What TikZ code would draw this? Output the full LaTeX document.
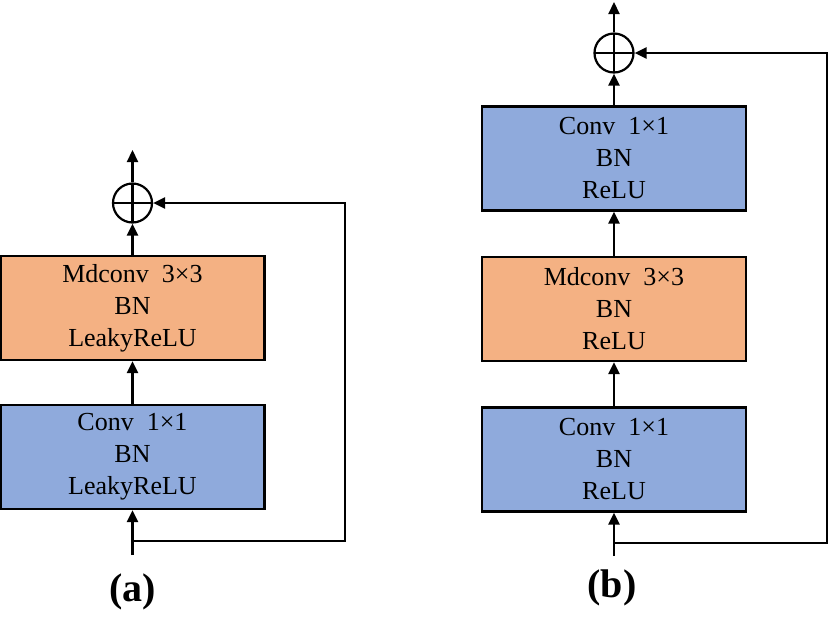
\documentclass[tikz,border=0pt]{standalone}
\usepackage{fontspec}
\setmainfont{Liberation Serif}
\usetikzlibrary{arrows.meta, positioning}
\definecolor{blue1}{HTML}{8FAADC}
\definecolor{orange1}{HTML}{F4B183}

\begin{document}
\begin{tikzpicture}[x=0.5pt,y=-0.5pt]
    \tikzstyle{block} = [draw=black, line width=1.1pt, minimum width=132pt, minimum height=52pt, align=center, inner sep=0pt, font=\fontsize{13}{16}\selectfont]
    \tikzstyle{plus} = [draw, circle, line width=1.1pt, minimum size=19.5pt, inner sep=0pt, path picture={\draw[line width=1.1pt] (path picture bounding box.north) -- (path picture bounding box.south) (path picture bounding box.west) -- (path picture bounding box.east);}]
    \tikzstyle{conn} = [line width=1.1pt, -{Triangle[length=6pt,width=5.5pt]}]
    \tikzstyle{caption} = [font=\fontsize{20}{24}\selectfont\bfseries]
    \useasboundingbox (0,0) rectangle (832,622);

    % (a)
    \node[block, fill=blue1]   (conv_a) at (132.5,457) {Conv~~1×1\\BN\\LeakyReLU};
    \node[block, fill=orange1] (md_a)   at (132.5,308) {Mdconv~~3×3\\BN\\LeakyReLU};
    \node[plus]                (add_a)  at (132.5,203) {};
    \coordinate (out_a) at (132.5,150);
    \coordinate (in_a)  at (132.5,555);
    \coordinate (br_a)  at (132.5,541);
    \coordinate (ret_a) at (345,541);
    \node[caption] (lab_a) at (132.5,592) {(a)};

    \draw[conn] (in_a) -- (conv_a);
    \draw[conn] (conv_a) -- (md_a);
    \draw[conn] (md_a) -- (add_a);
    \draw[conn] (add_a) -- (out_a);
    \draw[conn] (br_a) -- (ret_a) |- (add_a);

    % (b)
    \node[block, fill=blue1]   (conv_b) at (614,459.5) {Conv~~1×1\\BN\\ReLU};
    \node[block, fill=orange1] (md_b)   at (614,309)   {Mdconv~~3×3\\BN\\ReLU};
    \node[block, fill=blue1]   (up_b)   at (614,158.5) {Conv~~1×1\\BN\\ReLU};
    \node[plus]                (add_b)  at (614,53)    {};
    \coordinate (out_b) at (614,2);
    \coordinate (in_b)  at (614,556);
    \coordinate (br_b)  at (614,543);
    \coordinate (ret_b) at (827,543);
    \node[caption] (lab_b) at (612,588) {(b)};

    \draw[conn] (in_b) -- (conv_b);
    \draw[conn] (conv_b) -- (md_b);
    \draw[conn] (md_b) -- (up_b);
    \draw[conn] (up_b) -- (add_b);
    \draw[conn] (add_b) -- (out_b);
    \draw[conn] (br_b) -- (ret_b) |- (add_b);
\end{tikzpicture}
\end{document}
